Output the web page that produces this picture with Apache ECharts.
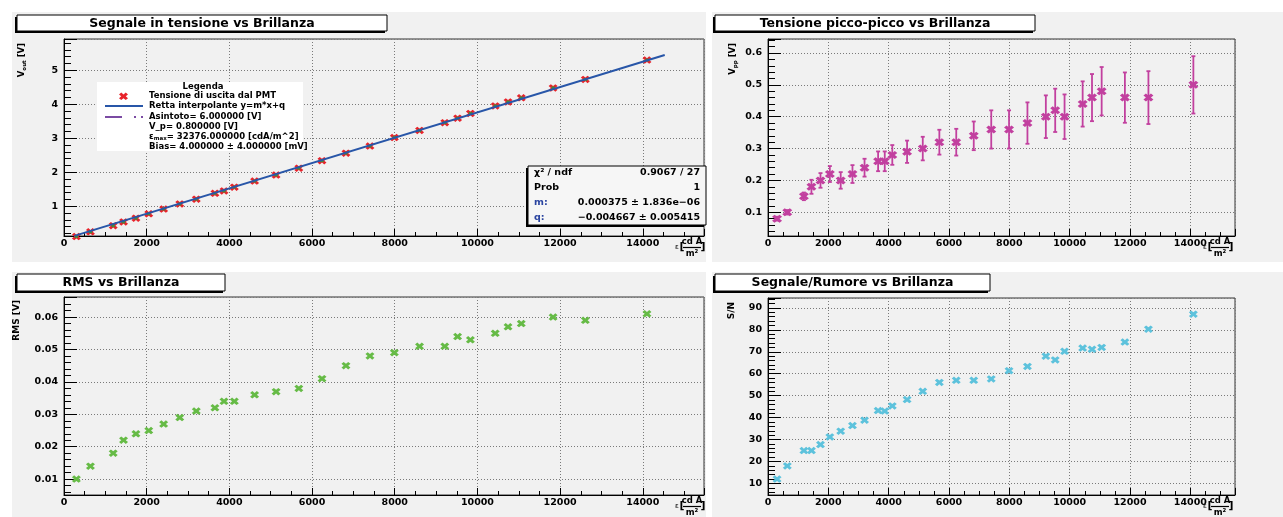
<!DOCTYPE html>
<html>
<head>
<meta charset="utf-8">
<script src="https://cdn.jsdelivr.net/npm/echarts@6/dist/echarts.min.js"></script>
<style>
  html, body { margin: 0; padding: 0; background: #fff; }
  #chart { width: 1283px; height: 517px; }
</style>
</head>
<body>
<div id="chart"></div>
<script>
// brightness [cd A / m^2], shared by all four pads
const brightness = [300, 640, 1190, 1440, 1740, 2050, 2410, 2800, 3200, 3650, 3870, 4120, 4610, 5130, 5680,
  6240, 6820, 7400, 7990, 8600, 9210, 9520, 9830, 10430, 10740, 11060, 11830, 12610, 14100];
const vout = [0.11, 0.25, 0.43, 0.54, 0.65, 0.78, 0.92, 1.07, 1.21, 1.38, 1.45, 1.56, 1.74, 1.92, 2.12,
  2.34, 2.56, 2.77, 3.02, 3.23, 3.46, 3.59, 3.73, 3.95, 4.07, 4.19, 4.48, 4.73, 5.30];
const fitX = [250, 14530];
const fitY = [0.13, 5.45];
const vpp = [0.08, 0.10, 0.15, 0.18, 0.20, 0.22, 0.20, 0.22, 0.24, 0.26, 0.26, 0.28, 0.29, 0.30, 0.32,
  0.32, 0.34, 0.36, 0.36, 0.38, 0.40, 0.42, 0.40, 0.44, 0.46, 0.48, 0.46, 0.46, 0.50];
const vppErr = [0.006, 0.007, 0.012, 0.022, 0.023, 0.025, 0.026, 0.028, 0.028, 0.031, 0.031, 0.031, 0.035, 0.037, 0.039,
  0.042, 0.045, 0.060, 0.060, 0.065, 0.067, 0.068, 0.070, 0.071, 0.074, 0.076, 0.079, 0.083, 0.090];
const rms = [0.010, 0.014, 0.018, 0.022, 0.024, 0.025, 0.027, 0.029, 0.031, 0.032, 0.034, 0.034, 0.036, 0.037, 0.038,
  0.041, 0.045, 0.048, 0.049, 0.051, 0.051, 0.054, 0.053, 0.055, 0.057, 0.058, 0.060, 0.059, 0.061];
const snr = [12, 18, 25, 25, 27.7, 31.2, 33.8, 36.4, 38.8, 43.2, 43, 45.3, 48.2, 52, 56,
  57, 57, 57.6, 61.4, 63.3, 68, 66.3, 70.2, 71.7, 71.1, 72, 74.4, 80.3, 87.1];

const padTitles = ['Segnale in tensione vs Brillanza', 'Tensione picco-picco vs Brillanza',
  'RMS vs Brillanza', 'Segnale/Rumore vs Brillanza'];
const legendLines = ['Tensione di uscita dal PMT', 'Retta interpolante y=m*x+q', 'Asintoto= 6.000000 [V]',
  'V_p= 0.800000 [V]', '= 32376.000000 [cdA/m^2]', 'Bias= 4.000000 \u00b1 4.000000 [mV]'];
const statLabels = ['\u03c7\u00b2 / ndf', 'Prob', 'm:', 'q:'];
const statValues = ['0.9067 / 27', '1', '0.000375 \u00b1 1.836e\u221206', '\u22120.004667 \u00b1 0.005415'];

const FONT = '"DejaVu Sans", sans-serif';
const PAD_BG = '#f1f1f1';
const RED = '#e8232b';
const MAGENTA = '#c2409f';
const GREEN = '#66bb46';
const CYAN = '#5dc2dc';
const X_MAX = 15480;

// thick "X" marker like ROOT's
const XMARK = 'path://M0,2.5L2.5,0L5,2.5L7.5,0L10,2.5L7.5,5L10,7.5L7.5,10L5,7.5L2.5,10L0,7.5L2.5,5Z';

const grids = [
  { left: 64, top: 39, width: 640, height: 197 },
  { left: 768, top: 39, width: 467, height: 197 },
  { left: 64, top: 297, width: 640, height: 198 },
  { left: 768, top: 298, width: 467, height: 197 },
];

function stepFmt(step, dec) {
  return (v) => (Math.abs(v / step - Math.round(v / step)) < 1e-6 ? Number(v).toFixed(dec) : '');
}

const gridLine = { show: true, lineStyle: { color: '#7a7a7a', type: [1, 2], width: 1 } };
const tickLabel = { color: '#000', fontFamily: FONT, fontWeight: 'bold', fontSize: 9.5 };

function xAxis(i) {
  return {
    type: 'value', gridIndex: i, min: 0, max: X_MAX, interval: 2000,
    axisLine: { show: true, lineStyle: { color: '#000', width: 1 } },
    axisTick: { show: true, inside: true, length: 7, lineStyle: { color: '#000' } },
    minorTick: { show: true, splitNumber: 4, length: 4, lineStyle: { color: '#000' } },
    axisLabel: { ...tickLabel, margin: 3, formatter: stepFmt(2000, 0), showMaxLabel: false },
    splitLine: gridLine,
  };
}

function yAxis(i, min, max, split, step, dec) {
  return {
    type: 'value', gridIndex: i, min, max, splitNumber: split,
    axisLine: { show: true, lineStyle: { color: '#000', width: 1 } },
    axisTick: { show: true, inside: true, length: 13, lineStyle: { color: '#000' } },
    minorTick: { show: true, splitNumber: 5, length: 7, lineStyle: { color: '#000' } },
    axisLabel: { ...tickLabel, margin: 6, formatter: stepFmt(step, dec), showMinLabel: false, showMaxLabel: false },
    splitLine: gridLine,
  };
}

function pts(ys) {
  return brightness.map((x, i) => [x, ys[i]]);
}

function scatter(i, ys, color, size) {
  return {
    type: 'scatter', xAxisIndex: i, yAxisIndex: i, data: pts(ys),
    symbol: XMARK, symbolSize: size || [9, 7.5], clip: false,
    itemStyle: { color, opacity: 1 }, z: 5, silent: true,
  };
}

// ---------- overlays drawn with graphic ----------
const graphics = [];

// pads
[[12, 12, 694, 250], [712, 12, 571, 250], [12, 272, 694, 245], [712, 272, 571, 245]].forEach(([x, y, w, h]) => {
  graphics.push({ type: 'rect', z: -10, shape: { x, y, width: w, height: h }, style: { fill: PAD_BG } });
});

function shadowBox(x, y, w, h, fill) {
  graphics.push({ type: 'rect', z: 100, shape: { x: x - 2, y: y + 2, width: w, height: h }, style: { fill: '#000' } });
  graphics.push({ type: 'rect', z: 101, shape: { x, y, width: w, height: h }, style: { fill, stroke: '#000', lineWidth: 1 } });
}

function txt(x, y, text, opts) {
  graphics.push({
    type: 'text', z: 102, x, y,
    style: Object.assign({ text, fill: '#000', font: 'bold 9px ' + FONT, align: 'left', verticalAlign: 'middle' }, opts),
  });
}

// pad titles
[[17, 15, 370, 16], [715, 15, 320, 16], [17, 274, 208, 17], [715, 274, 275, 17]].forEach(([x, y, w, h], i) => {
  shadowBox(x, y, w, h, '#fff');
  txt(x + w / 2, y + h / 2 + 0.5, padTitles[i], { font: 'bold 12.5px ' + FONT, align: 'center' });
});

// y axis titles (rotated, reading upward, ending near the frame top)
function yTitle(x, yTop, rich, big, small) {
  graphics.push({
    type: 'text', z: 102, x, y: yTop, rotation: Math.PI / 2,
    style: {
      text: rich, align: 'right', verticalAlign: 'middle', fill: '#000',
      rich: {
        a: { font: 'bold ' + big + 'px ' + FONT, lineHeight: 12, verticalAlign: 'middle' },
        s: { font: 'bold ' + small + 'px ' + FONT, lineHeight: 12, verticalAlign: 'bottom' },
      },
    },
  });
}
yTitle(22, 43, '{a|V}{s|out}{a| [V]}', 8.5, 5.5);
yTitle(733, 43, '{a|V}{s|pp}{a| [V]}', 8.5, 5.5);
yTitle(17, 300, '{a|RMS [V]}', 9, 6);
yTitle(732, 302, '{a|S/N}', 9, 6);

// x axis titles: eps [cd A / m^2]
function xTitle(right, axisY) {
  txt(right - 25, axisY + 11, '\u03b5', { font: '7px ' + FONT, align: 'center' });
  txt(right - 20, axisY + 11, '[', { font: 'bold 11px ' + FONT, align: 'center' });
  txt(right - 10, axisY + 5.5, 'cd A', { font: 'bold 8.5px ' + FONT, align: 'center' });
  graphics.push({ type: 'line', z: 102, shape: { x1: right - 19, y1: axisY + 11.5, x2: right - 1, y2: axisY + 11.5 }, style: { stroke: '#000', lineWidth: 1.2 } });
  txt(right - 10, axisY + 17.5, 'm\u00b2', { font: 'bold 8.5px ' + FONT, align: 'center' });
  txt(right + 1, axisY + 11, ']', { font: 'bold 11px ' + FONT, align: 'center' });
}
xTitle(702, 236);
xTitle(1230, 236);
xTitle(702, 495);
xTitle(1230, 495);

// legend of the first pad
graphics.push({ type: 'rect', z: 100, shape: { x: 97, y: 82, width: 206, height: 69 }, style: { fill: '#fff' } });
txt(203, 86.5, 'Legenda', { font: 'bold 8.5px ' + FONT, align: 'center' });
graphics.push({
  type: 'polygon', z: 102, x: 119, y: 92.5, scaleX: 0.9, scaleY: 0.75,
  shape: { points: [[0, 2.5], [2.5, 0], [5, 2.5], [7.5, 0], [10, 2.5], [7.5, 5], [10, 7.5], [7.5, 10], [5, 7.5], [2.5, 10], [0, 7.5], [2.5, 5]] },
  style: { fill: RED },
});
graphics.push({ type: 'line', z: 102, shape: { x1: 105, y1: 106, x2: 143, y2: 106 }, style: { stroke: '#2856a8', lineWidth: 2 } });
graphics.push({ type: 'line', z: 102, shape: { x1: 105, y1: 117, x2: 143, y2: 117 }, style: { stroke: '#7b4ba3', lineWidth: 2, lineDash: [17, 12, 2, 5, 2, 20] } });
const legendY = [96, 106, 116.5, 126.5, 136.5, 146.5];
legendLines.forEach((t, i) => {
  if (i === 4) {
    graphics.push({
      type: 'text', z: 102, x: 149, y: legendY[i],
      style: {
        text: '{a|\u03b5}{s|max}{a|' + t + '}', align: 'left', verticalAlign: 'middle', fill: '#000',
        rich: {
          a: { font: 'bold 8.5px ' + FONT, lineHeight: 11, verticalAlign: 'middle' },
          s: { font: 'bold 5.5px ' + FONT, lineHeight: 11, verticalAlign: 'bottom' },
        },
      },
    });
  } else {
    txt(149, legendY[i], t, { font: 'bold 8.5px ' + FONT });
  }
});

// fit statistics box
shadowBox(528, 166, 178, 59, '#f6f6f6');
const statY = [173, 188, 203, 217.5];
statLabels.forEach((t, i) => {
  const blue = i >= 2;
  txt(534, statY[i], t, { font: 'bold 9.5px ' + FONT, fill: blue ? '#2a44a0' : '#000' });
  txt(700, statY[i], statValues[i], { font: 'bold 9.5px ' + FONT, align: 'right' });
});

// ---------- chart ----------
const chart = echarts.init(document.getElementById('chart'), null, { renderer: 'canvas' });

const option = {
  backgroundColor: '#fff',
  animation: false,
  grid: grids.map((g) => Object.assign({
    show: true, borderColor: '#333', borderWidth: 1, backgroundColor: 'transparent', outerBoundsMode: 'none',
  }, g)),
  xAxis: [0, 1, 2, 3].map(xAxis),
  yAxis: [
    yAxis(0, 0.126, 5.92, 5, 1, 0),
    yAxis(1, 0.0255, 0.644, 5, 0.1, 1),
    yAxis(2, 0.0051, 0.0662, 5, 0.01, 2),
    yAxis(3, 4.73, 94.5, 9, 10, 0),
  ],
  series: [
    scatter(0, vout, RED),
    Object.assign(scatter(0, vout, '#2f9a3a', [4, 3.5]), { z: 6 }),
    {
      type: 'line', xAxisIndex: 0, yAxisIndex: 0, data: fitX.map((x, i) => [x, fitY[i]]),
      showSymbol: false, symbol: 'none', lineStyle: { color: '#2856a8', width: 2 }, z: 7, silent: true,
    },
    {
      type: 'custom', xAxisIndex: 1, yAxisIndex: 1, z: 4, silent: true,
      data: brightness.map((x, i) => [x, vpp[i] - vppErr[i], vpp[i] + vppErr[i]]),
      renderItem(params, api) {
        const lo = api.coord([api.value(0), api.value(1)]);
        const hi = api.coord([api.value(0), api.value(2)]);
        const st = { stroke: MAGENTA, lineWidth: 1.8 };
        return {
          type: 'group',
          children: [
            { type: 'line', shape: { x1: lo[0], y1: lo[1], x2: hi[0], y2: hi[1] }, style: st },
            { type: 'line', shape: { x1: lo[0] - 2, y1: lo[1], x2: lo[0] + 2, y2: lo[1] }, style: st },
            { type: 'line', shape: { x1: hi[0] - 2, y1: hi[1], x2: hi[0] + 2, y2: hi[1] }, style: st },
          ],
        };
      },
    },
    scatter(1, vpp, MAGENTA, [10, 8]),
    scatter(2, rms, GREEN),
    scatter(3, snr, CYAN),
  ],
  graphic: { elements: graphics },
};

chart.setOption(option);
</script>
</body>
</html>
